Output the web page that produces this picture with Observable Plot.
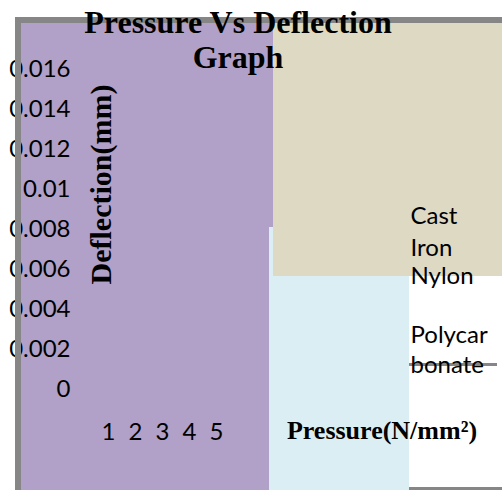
<!DOCTYPE html>
<html><head><meta charset="utf-8">
<script src="https://cdn.jsdelivr.net/npm/d3@7"></script>
<script src="https://cdn.jsdelivr.net/npm/@observablehq/plot@0.6"></script>
<style>
html,body{margin:0;padding:0;background:#fff;}
#chart{position:relative;width:502px;height:490px;overflow:hidden;background:#fff;}
.box{position:absolute;}
</style></head><body>
<div id="chart">
 <div class="box" style="left:21px;top:23px;width:252px;height:467px;background:#b1a0c7;z-index:1"></div>
 <div class="box" style="left:269px;top:227px;width:140px;height:263px;background:#daeef3;z-index:2"></div>
 <div class="box" style="left:273px;top:23px;width:229px;height:253px;background:#ddd9c3;z-index:3"></div>
 <div class="box" style="left:15px;top:17px;width:487px;height:6px;background:#868686;z-index:4"></div>
 <div class="box" style="left:409px;top:363px;width:88px;height:3px;background:#868686;z-index:4"></div>
 <div class="box" style="left:409px;top:487px;width:93px;height:3px;background:#868686;z-index:4"></div>
 <div id="plot" class="box" style="left:0;top:0;z-index:5"></div>
 <div class="box" style="left:15px;top:17px;width:6px;height:473px;background:#868686;z-index:6"></div>
</div>
<script>
// ---- data ----
const categories = [1, 2, 3, 4, 5];                       // pressure categories (x)
const seriesNames = ["Cast\nIron", "Nylon", "Polycar\nbonate"]; // legend entries as wrapped in the picture
const yTicks = [0, 0.002, 0.004, 0.006, 0.008, 0.01, 0.012, 0.014, 0.016];
const titleLines = ["Pressure Vs Deflection", "Graph"];
const xTitle = "Pressure(N/mm²)";
const yTitle = "Deflection(mm)";

// ---- layout ----
const serif = "'Liberation Serif','Times New Roman',serif";
const sans = "Lato,'Open Sans',sans-serif";
const ML = 70;
const legendLines = seriesNames.flatMap(s => s.split("\n"));
const legendBaselines = [223, 255, 283, 342, 372];
const titleBaselines = [32, 67];

const txt = (s, o) => Plot.text([s], {text: d => d, frameAnchor: "top-left", lineAnchor: "middle", fill: "#000", ...o});

const chart = Plot.plot({
  width: 502, height: 490,
  marginLeft: ML, marginTop: 0, marginRight: 0, marginBottom: 68,
  style: {background: "transparent", fontFamily: sans, fontSize: "24px", color: "#000", overflow: "visible"},
  x: {type: "linear", domain: [1, 5], range: [108, 216]},
  y: {type: "linear", domain: [0, 0.016], range: [387.5, 67.5]},
  marks: [
    Plot.axisY(yTicks, {anchor: "left", tickSize: 0, tickPadding: 0, tickFormat: d => String(d), label: null, dy: 1, fontSize: 24, fill: "#000"}),
    Plot.axisX(categories, {anchor: "bottom", tickSize: 0, tickPadding: 0, tickFormat: d => String(d), label: null, dy: 0.5, fontSize: 24, fill: "#000"}),
    ...titleLines.map((t, i) => txt(t, {dx: 237.5 - ML, dy: titleBaselines[i] - 0.32 * 32, textAnchor: "middle", fontFamily: serif, fontWeight: "bold", fontSize: 32})),
    txt(yTitle, {dx: 100.4 - ML, dy: 184, rotate: -90, textAnchor: "middle", fontFamily: serif, fontWeight: "bold", fontSize: 30}),
    txt(xTitle, {dx: 381.5 - ML, dy: 438 - 0.32 * 26, textAnchor: "middle", fontFamily: serif, fontWeight: "bold", fontSize: 26}),
    ...legendLines.map((t, i) => txt(t, {dx: 410 - ML, dy: legendBaselines[i] - 0.32 * 24, textAnchor: "start", fontFamily: sans, fontSize: 24}))
  ]
});
document.getElementById("plot").appendChild(chart);
</script>
</body></html>
